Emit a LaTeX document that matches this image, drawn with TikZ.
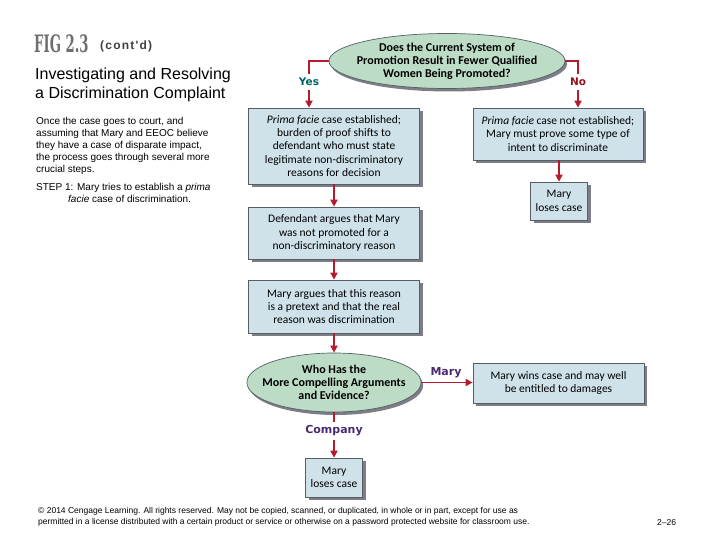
\documentclass[tikz,border=0pt]{standalone}
\usepackage{fontspec}
\setmainfont{Liberation Sans}
\newfontfamily\boxfont{Carlito}
\newfontfamily\tagfont{DejaVu Sans}
\newfontfamily\figfont[FakeStretch=0.55]{DejaVu Serif}
\newfontfamily\contfont[LetterSpace=10]{Liberation Sans}
\usepackage{tikz}
\usetikzlibrary{arrows.meta,shapes.geometric,shadows}
\definecolor{boxfill}{RGB}{207,226,234}
\definecolor{boxline}{RGB}{85,95,100}
\definecolor{ovalfill}{RGB}{188,220,198}
\definecolor{shade}{RGB}{125,125,135}
\definecolor{flowred}{RGB}{180,28,45}
\definecolor{yesteal}{RGB}{0,100,100}
\definecolor{nored}{RGB}{150,18,30}
\definecolor{partyblue}{RGB}{72,42,112}
\definecolor{figgray}{RGB}{110,110,110}

\begin{document}
\begin{tikzpicture}[x=1pt,y=-1pt]
\tikzstyle{every node}+=[inner sep=0pt]
\tikzstyle{stepbox}=[draw=boxline, line width=0.7pt, fill=boxfill, align=center, font=\boxfont\fontsize{11.5}{13.3}\selectfont, drop shadow={shadow xshift=3pt, shadow yshift=-3pt, fill=shade, opacity=1}]
\tikzstyle{question}=[ellipse, draw=boxline, line width=0.7pt, fill=ovalfill, align=center, inner xsep=-10pt, inner ysep=-2pt, font=\boxfont\bfseries\fontsize{12}{13}\selectfont, drop shadow={shadow xshift=2pt, shadow yshift=-3pt, fill=shade, opacity=1}]
\tikzstyle{answer}=[inner ysep=4pt, font=\tagfont\bfseries\fontsize{10.5}{12}\selectfont]
\tikzstyle{flow}=[flowred, line width=1.8pt]
\tikzstyle{flowarrow}=[flow, -{Triangle[length=7pt,width=7pt]}]
\useasboundingbox (0,0) rectangle (720,540);
%\draw[red] (0,0) rectangle (720,540);
\node[anchor=base west, text=figgray, font=\figfont\bfseries\fontsize{24}{24}\selectfont] (fig) at (34,53) {FIG 2.3};
\node[anchor=base west, text=black!75, font=\contfont\bfseries\fontsize{12}{12}\selectfont] (contd) at (100,50) {(cont'd)};
\node[anchor=north west, align=left, font=\fontsize{16}{18.5}\selectfont] (heading) at (35,68) {Investigating and Resolving\\a Discrimination Complaint};
\node[anchor=north west, align=left, font=\fontsize{10}{11.8}\selectfont] (intro) at (36,117.5) {Once the case goes to court, and\\assuming that Mary and EEOC believe\\they have a case of disparate impact,\\the process goes through several more\\crucial steps.};
\node[anchor=north west, align=left, font=\fontsize{10}{11.8}\selectfont] (step) at (36,183.5) {STEP 1: Mary tries to establish a \textit{prima}\\\hspace*{32pt}\textit{facie} case of discrimination.};

\node[question, minimum width=236pt, minimum height=55pt] (promo) at (447,61) {Does the Current System of\\Promotion Result in Fewer Qualified\\Women Being Promoted?};
\node[answer, text=yesteal] (yes) at (309,82) {Yes};
\node[answer, text=nored] (no) at (578,82) {No};
\node[stepbox, minimum width=171pt, minimum height=76pt] (established) at (334,146) {\textit{Prima facie} case established;\\burden of proof shifts to\\defendant who must state\\legitimate non-discriminatory\\reasons for decision};
\node[stepbox, minimum width=170pt, minimum height=52pt] (notest) at (558,134) {\textit{Prima facie} case not established;\\Mary must prove some type of\\intent to discriminate};
\node[stepbox, minimum width=57pt, minimum height=38pt] (lose1) at (559,201) {Mary\\loses case};
\node[stepbox, minimum width=171pt, minimum height=52pt] (defends) at (334,233) {Defendant argues that Mary\\was not promoted for a\\non-discriminatory reason};
\node[stepbox, minimum width=171pt, minimum height=53pt] (pretext) at (334,306.5) {Mary argues that this reason\\is a pretext and that the real\\reason was discrimination};
\node[question, minimum width=172pt, minimum height=59pt] (evidence) at (334,382.5) {Who Has the\\More Compelling Arguments\\and Evidence?};
\node[answer, text=partyblue, font=\tagfont\bfseries\fontsize{11}{12}\selectfont] (mary) at (446,373) {Mary};
\node[stepbox, minimum width=171pt, minimum height=40pt] (wins) at (558.5,383) {Mary wins case and may well\\be entitled to damages};
\node[answer, text=partyblue, font=\tagfont\bfseries\fontsize{11}{12}\selectfont] (company) at (334,431) {Company};
\node[stepbox, minimum width=57pt, minimum height=39pt] (lose2) at (334,477.5) {Mary\\loses case};

\draw[flow] (promo.west) -| (yes.north);
\draw[flowarrow] (yes.south) -- (yes.south |- established.north);
\draw[flow] (promo.east) -| (no.north);
\draw[flowarrow] (no.south) -- (no.south |- notest.north);
\draw[flowarrow] (lose1 |- notest.south) -- (lose1.north);
\draw[flowarrow] (established.south) -- (defends.north);
\draw[flowarrow] (defends.south) -- (pretext.north);
\draw[flowarrow] (pretext.south) -- (evidence.north);
\draw[flowarrow] (evidence.east) -- (evidence.east -| wins.west);
\draw[flow] (evidence.south) -- (company.north);
\draw[flowarrow] (company.south) -- (lose2.north);

\node[anchor=north west, align=left, font=\fontsize{8.5}{11}\selectfont] (legal) at (38,507) {\textcopyright{} 2014 Cengage Learning. All rights reserved. May not be copied, scanned, or duplicated, in whole or in part, except for use as\\permitted in a license distributed with a certain product or service or otherwise on a password protected website for classroom use.};
\node[anchor=base west, font=\fontsize{8.5}{11}\selectfont] (page) at (657,525) {2--26};
\end{tikzpicture}
\end{document}
